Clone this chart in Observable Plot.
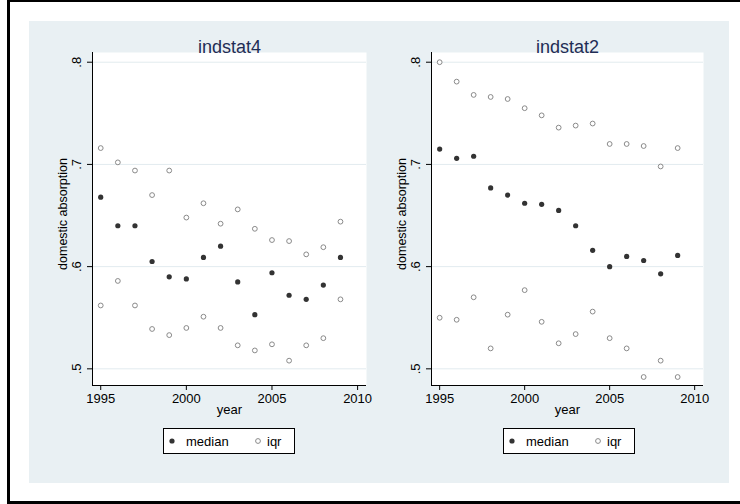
<!DOCTYPE html>
<html><head><meta charset="utf-8">
<script src="https://cdn.jsdelivr.net/npm/d3@7"></script>
<script src="https://cdn.jsdelivr.net/npm/@observablehq/plot@0.6"></script>
<style>
html,body{margin:0;padding:0;background:#fff;overflow:hidden;width:740px;height:504px;position:relative;font-family:"Liberation Sans",Arial,sans-serif;}
#frame{position:absolute;left:7px;top:0;width:800px;height:499px;border-left:3px solid #000;border-top:2px solid #000;border-bottom:3px solid #000;}
#bg{position:absolute;left:29px;top:21px;width:700px;height:462px;background:#e9f0f3;}
.panel{position:absolute;top:30px;}
.legend{position:absolute;top:428px;}
.panel g[aria-label="x-axis tick label"], .panel g[aria-label="y-axis tick label"],
.panel g[aria-label="x-axis tick label"] text, .panel g[aria-label="y-axis tick label"] text { font-size: 13px !important; }
</style>
</head><body>
<div id="frame"></div>
<div id="bg"></div>
<div id="p1" class="panel" style="left:30px"></div>
<div id="p2" class="panel" style="left:370px"></div>
<div id="l1" class="legend" style="left:163px"></div>
<div id="l2" class="legend" style="left:503px"></div>
<script>
const years = [1995,1996,1997,1998,1999,2000,2001,2002,2003,2004,2005,2006,2007,2008,2009];
const panelTitles = ["indstat4", "indstat2"];
const seriesNames = ["median", "iqr"];
const yTicks = [0.5, 0.6, 0.7, 0.8];
const xTicks = [1995, 2000, 2005, 2010];
const yLabel = "domestic absorption";
const xLabel = "year";

// indstat4
const ind4Median = [0.668,0.640,0.640,0.605,0.590,0.588,0.609,0.620,0.585,0.553,0.594,0.572,0.568,0.582,0.609];
const ind4IqrHigh = [0.716,0.702,0.694,0.670,0.694,0.648,0.662,0.642,0.656,0.637,0.626,0.625,0.612,0.619,0.644];
const ind4IqrLow = [0.562,0.586,0.562,0.539,0.533,0.540,0.551,0.540,0.523,0.518,0.524,0.508,0.523,0.530,0.568];
// indstat2
const ind2Median = [0.715,0.706,0.708,0.677,0.670,0.662,0.661,0.655,0.640,0.616,0.600,0.610,0.606,0.593,0.611];
const ind2IqrHigh = [0.800,0.781,0.768,0.766,0.764,0.755,0.748,0.736,0.738,0.740,0.720,0.720,0.718,0.698,0.716];
const ind2IqrLow = [0.550,0.548,0.570,0.520,0.553,0.577,0.546,0.525,0.534,0.556,0.530,0.520,0.492,0.508,0.492];

const FONT = "Liberation Sans, Arial, Helvetica, sans-serif";
const MED_COLOR = "#333333";
const IQR_COLOR = "#8a8a8a";

function panel(title, med, hi, lo, marginLeft, marginRight) {
  const medRows = years.map((y, i) => ({year: y, value: med[i]}));
  const iqrRows = years.flatMap((y, i) => [{year: y, value: hi[i]}, {year: y, value: lo[i]}]);
  const xDom = [1994.52, 2010.52];
  const yDom = [0.4837, 0.8095];
  return Plot.plot({
    width: 360, height: 400,
    marginLeft, marginRight, marginTop: 22, marginBottom: 45,
    x: {domain: xDom},
    y: {domain: yDom},
    style: {background: "transparent", fontFamily: FONT, fontSize: "13px", color: "#000", overflow: "visible"},
    marks: [
      Plot.frame({fill: "white", stroke: null}),
      Plot.gridY(yTicks, {stroke: "#e2ebef", strokeOpacity: 1, strokeWidth: 1}),
      Plot.ruleX([xDom[0]], {stroke: "#000", strokeWidth: 1}),
      Plot.ruleY([yDom[0]], {stroke: "#000", strokeWidth: 1}),
      Plot.axisY(yTicks, {tickSize: 5, tickPadding: 7, tickRotate: -90, fontSize: 13,
        tickFormat: d => d3.format(".1f")(d).replace(/^0/, ""), label: null}),
      Plot.axisX(xTicks, {tickSize: 5, tickPadding: 3, fontSize: 13, tickFormat: d => String(d), label: null}),
      Plot.dot(iqrRows, {x: "year", y: "value", r: 2.4, stroke: IQR_COLOR, strokeWidth: 1, fill: "white"}),
      Plot.dot(medRows, {x: "year", y: "value", r: 2.6, fill: MED_COLOR, stroke: null}),
      Plot.text([title], {frameAnchor: "top", dy: -12, fontSize: 18, fill: "#1f2d55"}),
      Plot.text([yLabel], {frameAnchor: "left", textAnchor: "middle", dx: -30, dy: -5, rotate: -90, fontSize: 12.5}),
      Plot.text([xLabel], {frameAnchor: "bottom", dy: 28, fontSize: 13})
    ]
  });
}

document.getElementById("p1").appendChild(panel(panelTitles[0], ind4Median, ind4IqrHigh, ind4IqrLow, 62, 24));
document.getElementById("p2").appendChild(panel(panelTitles[1], ind2Median, ind2IqrHigh, ind2IqrLow, 61, 27));

function legend(el) {
  const svg = d3.select(el).append("svg").attr("width", 133).attr("height", 27)
    .style("display", "block").style("font-family", FONT);
  svg.append("rect").attr("x", 0.5).attr("y", 0.5).attr("width", 131).attr("height", 25)
    .attr("fill", "white").attr("stroke", "#000").attr("stroke-width", 1);
  svg.append("circle").attr("cx", 9).attr("cy", 13).attr("r", 2.6).attr("fill", MED_COLOR);
  svg.append("text").attr("x", 23).attr("y", 18).attr("font-size", 13).text(seriesNames[0]);
  svg.append("circle").attr("cx", 95).attr("cy", 13).attr("r", 2.4).attr("fill", "white")
    .attr("stroke", IQR_COLOR).attr("stroke-width", 1);
  svg.append("text").attr("x", 104).attr("y", 18).attr("font-size", 13).text(seriesNames[1]);
}
legend(document.getElementById("l1"));
legend(document.getElementById("l2"));
</script>
</body></html>
